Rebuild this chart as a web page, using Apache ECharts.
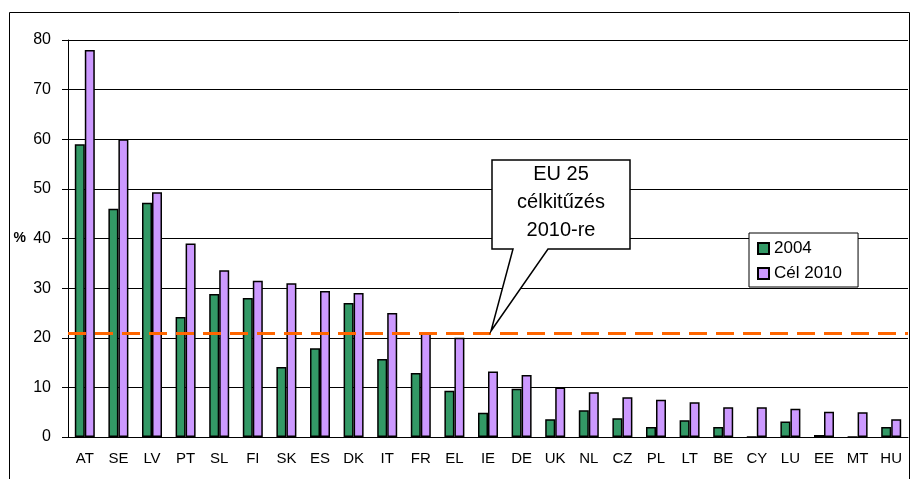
<!DOCTYPE html>
<html>
<head>
<meta charset="utf-8">
<script src="https://cdn.jsdelivr.net/npm/echarts@6/dist/echarts.min.js"></script>
<style>
  html, body { margin: 0; padding: 0; background: #fff; }
  #main { width: 911px; height: 479px; }
</style>
</head>
<body>
<div id="main"></div>
<script>
// country codes along the x axis
const countries = ['AT', 'SE', 'LV', 'PT', 'SL', 'FI', 'SK', 'ES', 'DK', 'IT', 'FR', 'EL', 'IE',
    'DE', 'UK', 'NL', 'CZ', 'PL', 'LT', 'BE', 'CY', 'LU', 'EE', 'MT', 'HU'];
// share in 2004 (%)
const values2004 = [59, 46, 47.2, 24.2, 28.8, 28, 14.1, 17.9, 27, 15.7, 12.9, 9.3, 4.9,
    9.7, 3.6, 5.4, 3.8, 2, 3.4, 2, 0, 3.1, 0.4, 0, 2];
// target for 2010 (%)
const target2010 = [78, 60, 49.3, 39, 33.6, 31.5, 31, 29.4, 29, 25, 21, 20, 13.2,
    12.5, 10, 9, 8, 7.5, 7, 6, 6, 5.7, 5.1, 5, 3.6];
const euTarget = 21;
const yTicks = [0, 10, 20, 30, 40, 50, 60, 70, 80];

const font = 'Liberation Sans, Arial, sans-serif';
let chart = echarts.init(document.getElementById('main'));

let option = {
    animation: false,
    backgroundColor: '#fff',
    grid: { left: 68, top: 40, right: 3, bottom: 42 },
    legend: {
        orient: 'vertical',
        left: 749, top: 233,
        padding: [7, 16, 5, 8],
        backgroundColor: '#fff',
        borderColor: '#000',
        borderWidth: 1,
        borderRadius: 0,
        itemWidth: 11, itemHeight: 11, itemGap: 8,
        icon: 'rect',
        textStyle: { fontFamily: font, fontSize: 17, color: '#000' },
        data: ['2004', 'Cél 2010']
    },
    xAxis: {
        type: 'category',
        data: countries,
        axisLine: { lineStyle: { color: '#000', width: 1 } },
        axisTick: { length: 5, lineStyle: { color: '#000' } },
        axisLabel: { fontFamily: font, fontSize: 15, color: '#000', margin: 14 }
    },
    yAxis: {
        type: 'value',
        min: yTicks[0], max: yTicks[yTicks.length - 1], interval: 10,
        name: '%',
        nameLocation: 'middle',
        nameRotate: 0,
        nameGap: 42,
        nameTextStyle: { fontFamily: font, fontSize: 14, fontWeight: 'bold', color: '#000', padding: [12, 0, 0, 0] },
        axisLine: { show: true, lineStyle: { color: '#000', width: 1 } },
        axisTick: { show: true, length: 6, lineStyle: { color: '#000' } },
        axisLabel: { fontFamily: font, fontSize: 16, color: '#000', margin: 17 },
        splitLine: { lineStyle: { color: '#000', width: 1 } }
    },
    series: [
        {
            name: '2004',
            type: 'bar',
            data: values2004,
            barWidth: 10,
            barGap: '0%',
            itemStyle: { color: '#339966', borderColor: '#000', borderWidth: 1.5 },
            markLine: {
                silent: true,
                symbol: 'none',
                label: { show: false },
                lineStyle: { color: '#FF6600', width: 3, type: [18, 9] },
                data: [{ yAxis: euTarget }]
            },
            z: 2
        },
        {
            name: 'Cél 2010',
            type: 'bar',
            data: target2010,
            barWidth: 10,
            barGap: '0%',
            itemStyle: { color: '#CC99FF', borderColor: '#000', borderWidth: 1.5 },
            z: 2
        }
    ],
    graphic: [
        {
            type: 'rect',
            shape: { x: 9.5, y: 12.5, width: 900, height: 500 },
            style: { fill: 'none', stroke: '#000', lineWidth: 1 },
            silent: true, z: 0
        },
        {
            type: 'polygon',
            shape: {
                points: [[492, 160], [630, 160], [630, 249], [548, 249], [491, 331], [513, 249], [492, 249]]
            },
            style: { fill: '#fff', stroke: '#000', lineWidth: 1.5 },
            z: 10
        },
        {
            type: 'text',
            x: 561, y: 160,
            style: {
                text: 'EU 25\ncélkitűzés\n2010-re',
                fontFamily: font, fontSize: 20, fill: '#000',
                align: 'center', verticalAlign: 'top', lineHeight: 28
            },
            z: 11
        }
    ]
};
chart.setOption(option);
</script>
</body>
</html>
